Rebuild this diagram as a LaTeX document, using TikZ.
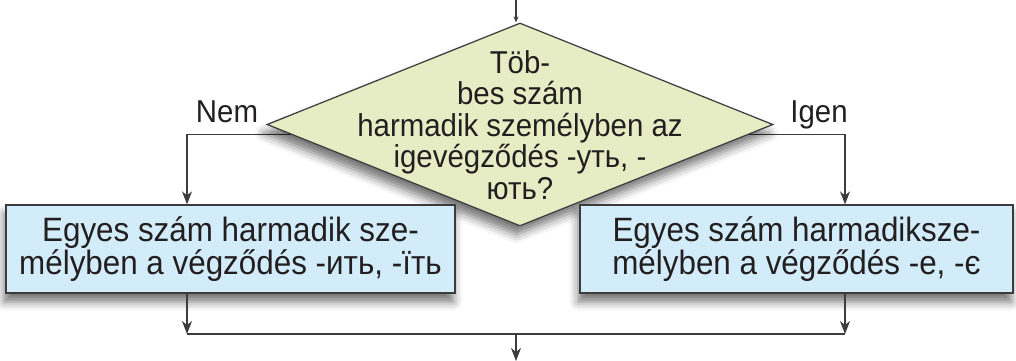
\documentclass[tikz,border=0pt]{standalone}
\usepackage{fontspec}
\setmainfont{Liberation Sans}[FakeStretch=0.93]
\usetikzlibrary{shapes.geometric, arrows.meta, shadows.blur, backgrounds}

\definecolor{qfill}{HTML}{E6EDC4}
\definecolor{boxfill}{HTML}{D2ECF9}
\definecolor{linegray}{HTML}{3C3C3C}
\definecolor{ink}{HTML}{231F20}

\begin{document}
\begin{tikzpicture}[
    every node/.style={text=ink, font=\fontsize{18}{18}\selectfont},
    decision/.style={diamond, draw=linegray, line width=0.7pt, fill=qfill,
        minimum width=10.12cm, minimum height=4.06cm, inner sep=0pt,
        blur shadow={shadow xshift=-2pt, shadow yshift=-5pt, shadow blur radius=5pt, shadow opacity=55}},
    result/.style={rectangle, draw=linegray, line width=0.7pt, fill=boxfill,
        minimum height=1.76cm, align=center, font=\fontsize{19.2}{17.6}\selectfont,
        blur shadow={shadow xshift=-1pt, shadow yshift=-5pt, shadow blur radius=5pt, shadow opacity=55}},
    flow/.style={draw=linegray, line width=0.7pt,
        -{Stealth[length=0.26cm, width=0.2cm, inset=0.08cm]}},
    link/.style={draw=linegray, line width=0.7pt}
  ]
    \useasboundingbox (0,0) rectangle (20.32,-7.22);

    % Question
    \node[decision] (q) at (10.4,-2.49) {};
    \node[align=center] (qtext) at (10.4,-2.5)
        {Töb-\\bes szám\\harmadik személyben az\\igevégződés -уть, -\\ють?};

    % Answers
    \node[result, minimum width=8.98cm] (lbox) at (4.61,-4.98)
        {Egyes szám harmadik sze-\\mélyben a végződés -ить, -їть};
    \node[result, minimum width=8.66cm] (rbox) at (15.93,-4.98)
        {Egyes szám harmadiksze-\\mélyben a végződés -е, -є};

    % Labels
    \node[anchor=base] (nem) at (4.54,-2.46) {Nem};
    \node[anchor=base] (igen) at (16.38,-2.46) {Igen};

    % Joins
    \coordinate (top) at (10.32,0);
    \coordinate (join) at (10.32,-6.68);
    \coordinate (out) at (10.32,-7.22);

    \begin{scope}[on background layer]
        \draw[flow, -{Stealth[length=0.12cm, width=0.1cm]}] (top) -- (top |- q.north);
        \draw[flow] ([yshift=-0.2cm]q.center) -| ([xshift=-0.87cm]lbox.north);
        \draw[flow] ([yshift=-0.2cm]q.center) -| ([xshift=0.97cm]rbox.north);
    \end{scope}

    \draw[flow] ([xshift=-0.87cm]lbox.south) -- ([xshift=-0.87cm]lbox.south |- join);
    \draw[flow] ([xshift=0.97cm]rbox.south) -- ([xshift=0.97cm]rbox.south |- join);
    \draw[link] ([xshift=-0.87cm]lbox.south |- join) -- ([xshift=0.97cm]rbox.south |- join);
    \draw[flow] (join) -- (out);
\end{tikzpicture}
\end{document}
